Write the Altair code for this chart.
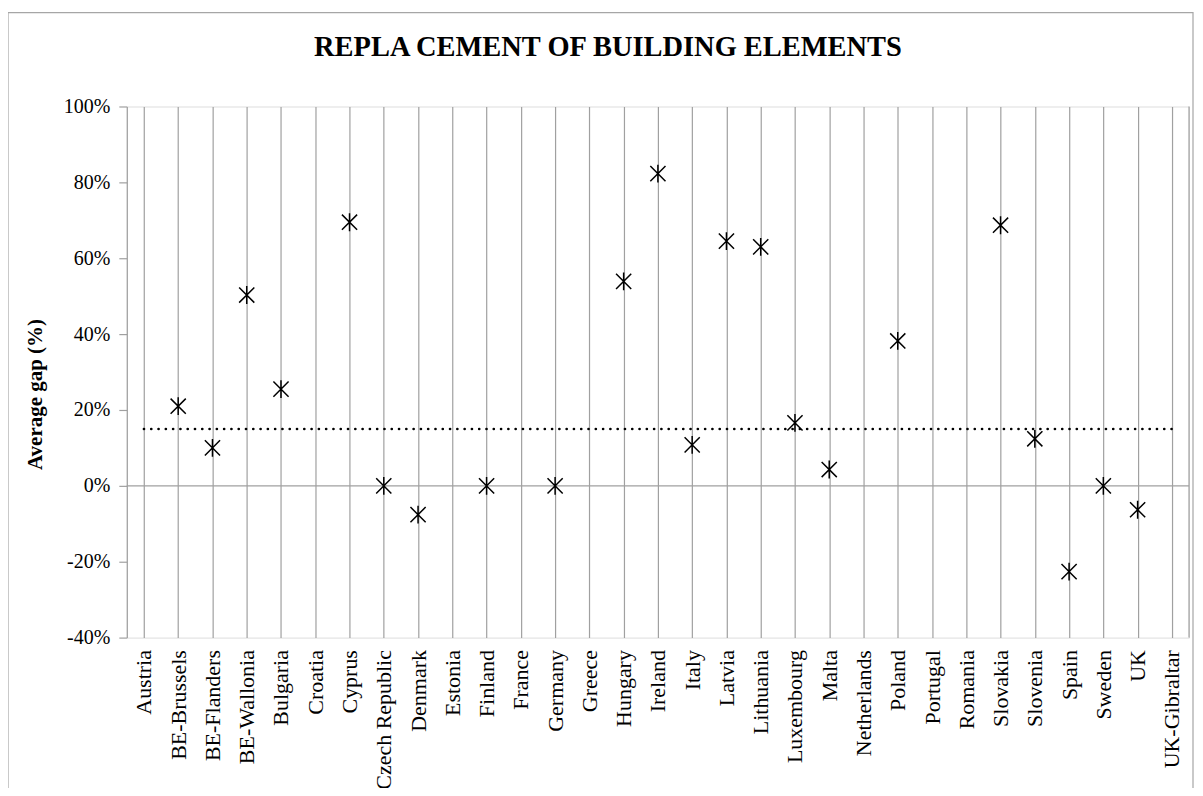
import altair as alt
import pandas as pd

countries = ["Austria", "BE-Brussels", "BE-Flanders", "BE-Wallonia", "Bulgaria", "Croatia",
             "Cyprus", "Czech Republic", "Denmark", "Estonia", "Finland", "France", "Germany",
             "Greece", "Hungary", "Ireland", "Italy", "Latvia", "Lithuania", "Luxembourg",
             "Malta", "Netherlands", "Poland", "Portugal", "Romania", "Slovakia", "Slovenia",
             "Spain", "Sweden", "UK", "UK-Gibraltar"]
gap = [None, 0.21, 0.10, 0.503, 0.255, None,
       0.695, 0.0, -0.076, None, 0.0, None, 0.0,
       None, 0.539, 0.823, 0.108, 0.645, 0.630, 0.166,
       0.043, None, 0.382, None, None, 0.687, 0.124,
       -0.226, 0.0, -0.063, None]
average = 0.15
y_ticks = [-0.4, -0.2, 0.0, 0.2, 0.4, 0.6, 0.8, 1.0]

W, H = 1064, 532
FONT = "Liberation Serif"

pts = pd.DataFrame({"country": countries, "gap": gap}).dropna()
avg = pd.DataFrame({"country": countries, "avg": [average] * len(countries)})
one = pd.DataFrame({"k": [0]})

xscale = alt.Scale(domain=countries, paddingInner=0, paddingOuter=0)
xaxis = alt.Axis(title=None, grid=True, bandPosition=0, gridColor="#a0a0a0", gridWidth=1.2,
                 ticks=False, domain=False, labelAngle=-90, labelFontSize=22, labelFont=FONT,
                 labelColor="black", labelPadding=12, labelLimit=300)
yscale = alt.Scale(domain=[-0.4, 1.0], nice=False, zero=False)
yaxis = alt.Axis(title="Average gap (%)", values=y_ticks, grid=False,
                 labelExpr="round(datum.value*100) + '%'",
                 labelFontSize=20, labelFont=FONT, labelColor="black", labelPadding=9,
                 domainColor="#a0a0a0", domainWidth=1.2, tickColor="#a0a0a0", tickSize=8,
                 tickWidth=1.2, titleFont=FONT, titleFontSize=21, titleFontWeight="bold",
                 titleColor="black", titleAngle=-90, titleX=-91, titleY=288,
                 titleAlign="center", titleBaseline="middle")

border = alt.Chart(one).mark_rect(fillOpacity=0, stroke="#a6a6a6", strokeWidth=1.2).encode(
    x=alt.value(-119), x2=alt.value(1068), y=alt.value(-94), y2=alt.value(720))

right_edge = alt.Chart(one).mark_rule(color="#a0a0a0", strokeWidth=1.2).encode(
    x=alt.value(W), y=alt.value(0), y2=alt.value(H))

zero = alt.Chart(one).mark_rule(color="#a0a0a0", strokeWidth=1.2).encode(
    y=alt.datum(0, scale=yscale), x=alt.value(0), x2=alt.value(W))

line = alt.Chart(avg).mark_line(color="black", strokeWidth=2.6, strokeDash=[0.1, 7.2],
                                strokeCap="round").encode(
    x=alt.X("country:N", scale=xscale, axis=xaxis, sort=countries),
    y=alt.Y("avg:Q", scale=yscale, axis=yaxis))

star = "M-0.85,-0.85L0.85,0.85M0.85,-0.85L-0.85,0.85M0,-1L0,1"
points = alt.Chart(pts).mark_point(shape=star, size=320, filled=False, color="black",
                                   strokeWidth=1.5, opacity=1).encode(
    x=alt.X("country:N", scale=xscale, axis=xaxis, sort=countries),
    y=alt.Y("gap:Q", scale=yscale, axis=yaxis))

chart = alt.layer(border, right_edge, zero, line, points).properties(
    width=W, height=H,
    title=alt.Title("REPLA CEMENT OF BUILDING ELEMENTS", font=FONT, fontSize=28.5,
                    fontWeight="bold", color="black", anchor="middle", dx=-50, offset=-50),
    autosize=alt.AutoSizeParams(type="none"),
    padding={"left": 119, "top": 98, "right": 6, "bottom": 150},
).configure_view(stroke=None).configure(background="white")

chart.save("out.html", embed_options={"renderer": "svg", "actions": False})
